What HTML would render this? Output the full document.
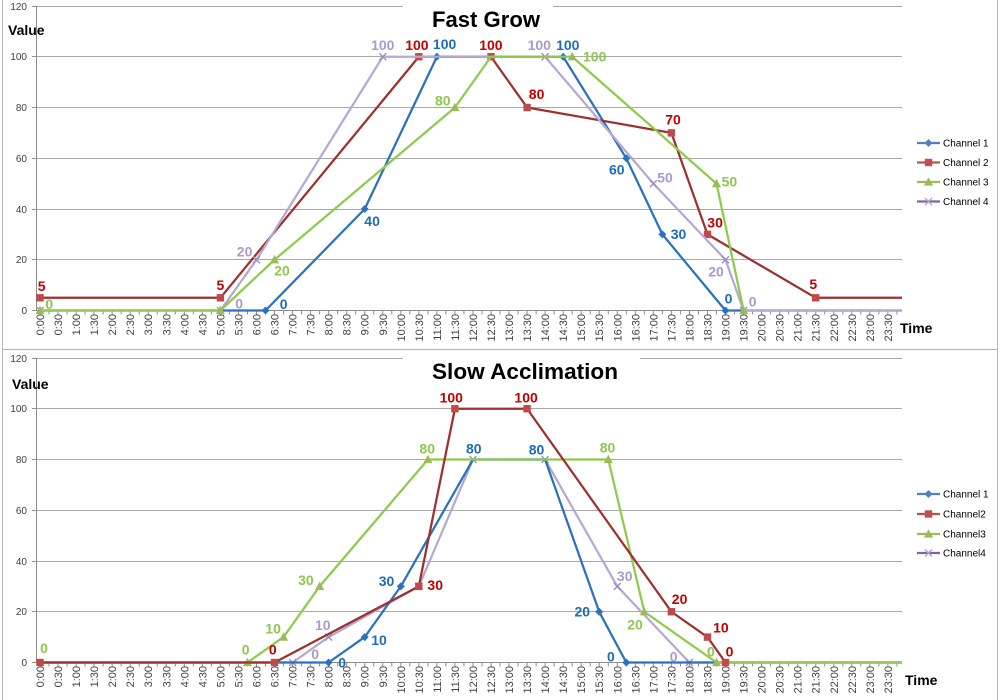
<!DOCTYPE html>
<html><head><meta charset="utf-8"><style>
html,body{margin:0;padding:0;background:#fff;}
svg{display:block;font-family:"Liberation Sans",sans-serif;}
.gl{stroke:#a8a8a8;stroke-width:1;}
.ax{stroke:#8c8c8c;stroke-width:1;}
.yl{font-size:10px;fill:#404040;text-anchor:end;}
.xl{font-size:11px;fill:#404040;text-anchor:end;}
.dl{font-size:14px;font-weight:bold;text-anchor:middle;}
.b{fill:#1f6cb5}.r{fill:#c00000}.g{fill:#8dc84e}.p{fill:#a99bc9}
.lg{font-size:10px;fill:#000;}
</style></head><body>
<svg width="1000" height="700" viewBox="0 0 1000 700" xmlns="http://www.w3.org/2000/svg">
<defs>
<path id="dm" d="M0,-4 L4,0 L0,4 L-4,0Z"/>
<rect id="sq" x="-3.7" y="-3.7" width="7.4" height="7.4"/>
<path id="tr" d="M0,-4.8 L4.6,3.6 L-4.6,3.6Z"/>
<path id="xx" d="M-3.5,-3.5L3.5,3.5M-3.5,3.5L3.5,-3.5" fill="none" stroke-width="1.4"/>
</defs>
<rect x="0" y="0" width="1000" height="700" fill="#fff"/>
<rect x="2.5" y="-2" width="995" height="351.5" fill="none" stroke="#b3b3b3"/>
<rect x="2.5" y="349.5" width="995" height="360" fill="none" stroke="#b3b3b3"/>

<!-- ============ TOP CHART ============ -->
<g>
<line class="gl" x1="36" y1="6.5" x2="902" y2="6.5"/>
<line class="gl" x1="36" y1="56.5" x2="902" y2="56.5"/>
<line class="gl" x1="36" y1="107.5" x2="902" y2="107.5"/>
<line class="gl" x1="36" y1="158.5" x2="902" y2="158.5"/>
<line class="gl" x1="36" y1="209.5" x2="902" y2="209.5"/>
<line class="gl" x1="36" y1="259.5" x2="902" y2="259.5"/>
<line class="ax" x1="36.5" y1="6" x2="36.5" y2="311"/>
<line class="ax" x1="36" y1="310.5" x2="902" y2="310.5"/>
<path class="ax" d="M32,6.5H36M32,56.5H36M32,107.5H36M32,158.5H36M32,209.5H36M32,259.5H36M32,310.5H36"/>
<line x1="39.5" y1="312.5" x2="902" y2="312.5" stroke="#8c8c8c" stroke-width="4" stroke-dasharray="1 8.02"/>
<rect x="403" y="0" width="150" height="14" fill="#fff"/>
<text x="486" y="27" font-size="22" font-weight="bold" text-anchor="middle" textLength="108" lengthAdjust="spacingAndGlyphs" fill="#000">Fast Grow</text>
<text x="8" y="35" font-size="14" font-weight="bold" fill="#000">Value</text>
<text x="900" y="333" font-size="14" font-weight="bold" fill="#000">Time</text>
<text class="yl" x="27" y="10">120</text>
<text class="yl" x="27" y="60">100</text>
<text class="yl" x="27" y="111">80</text>
<text class="yl" x="27" y="162">60</text>
<text class="yl" x="27" y="213">40</text>
<text class="yl" x="27" y="263">20</text>
<text class="yl" x="27" y="314">0</text>
<g class="xl">
<text transform="translate(44,314) rotate(-90)">0:00</text>
<text transform="translate(62,314) rotate(-90)">0:30</text>
<text transform="translate(80.1,314) rotate(-90)">1:00</text>
<text transform="translate(98.1,314) rotate(-90)">1:30</text>
<text transform="translate(116.2,314) rotate(-90)">2:00</text>
<text transform="translate(134.2,314) rotate(-90)">2:30</text>
<text transform="translate(152.2,314) rotate(-90)">3:00</text>
<text transform="translate(170.3,314) rotate(-90)">3:30</text>
<text transform="translate(188.3,314) rotate(-90)">4:00</text>
<text transform="translate(206.4,314) rotate(-90)">4:30</text>
<text transform="translate(224.4,314) rotate(-90)">5:00</text>
<text transform="translate(242.4,314) rotate(-90)">5:30</text>
<text transform="translate(260.5,314) rotate(-90)">6:00</text>
<text transform="translate(278.5,314) rotate(-90)">6:30</text>
<text transform="translate(296.6,314) rotate(-90)">7:00</text>
<text transform="translate(314.6,314) rotate(-90)">7:30</text>
<text transform="translate(332.6,314) rotate(-90)">8:00</text>
<text transform="translate(350.7,314) rotate(-90)">8:30</text>
<text transform="translate(368.7,314) rotate(-90)">9:00</text>
<text transform="translate(386.8,314) rotate(-90)">9:30</text>
<text transform="translate(404.8,314) rotate(-90)">10:00</text>
<text transform="translate(422.8,314) rotate(-90)">10:30</text>
<text transform="translate(440.9,314) rotate(-90)">11:00</text>
<text transform="translate(458.9,314) rotate(-90)">11:30</text>
<text transform="translate(477,314) rotate(-90)">12:00</text>
<text transform="translate(495,314) rotate(-90)">12:30</text>
<text transform="translate(513,314) rotate(-90)">13:00</text>
<text transform="translate(531.1,314) rotate(-90)">13:30</text>
<text transform="translate(549.1,314) rotate(-90)">14:00</text>
<text transform="translate(567.2,314) rotate(-90)">14:30</text>
<text transform="translate(585.2,314) rotate(-90)">15:00</text>
<text transform="translate(603.2,314) rotate(-90)">15:30</text>
<text transform="translate(621.3,314) rotate(-90)">16:00</text>
<text transform="translate(639.3,314) rotate(-90)">16:30</text>
<text transform="translate(657.4,314) rotate(-90)">17:00</text>
<text transform="translate(675.4,314) rotate(-90)">17:30</text>
<text transform="translate(693.4,314) rotate(-90)">18:00</text>
<text transform="translate(711.5,314) rotate(-90)">18:30</text>
<text transform="translate(729.5,314) rotate(-90)">19:00</text>
<text transform="translate(747.6,314) rotate(-90)">19:30</text>
<text transform="translate(765.6,314) rotate(-90)">20:00</text>
<text transform="translate(783.6,314) rotate(-90)">20:30</text>
<text transform="translate(801.7,314) rotate(-90)">21:00</text>
<text transform="translate(819.7,314) rotate(-90)">21:30</text>
<text transform="translate(837.8,314) rotate(-90)">22:00</text>
<text transform="translate(855.8,314) rotate(-90)">22:30</text>
<text transform="translate(873.8,314) rotate(-90)">23:00</text>
<text transform="translate(891.9,314) rotate(-90)">23:30</text>
</g>

<!-- series -->
<polyline fill="none" stroke="#2a72be" stroke-width="2.25" stroke-linejoin="round" points="40,310.5 220.4,310.5 265.5,310.5 364.7,209 436.9,56.75 563.2,56.75 626.3,158.3 662.4,234.4 725.5,310.5 743.6,310.5 902,310.5"/>
<g fill="#2a72be"><use href="#dm" x="265.5" y="310.5"/><use href="#dm" x="364.7" y="209"/><use href="#dm" x="436.9" y="56.75"/><use href="#dm" x="563.2" y="56.75"/><use href="#dm" x="626.3" y="158.3"/><use href="#dm" x="662.4" y="234.4"/><use href="#dm" x="725.5" y="310.5"/></g>
<polyline fill="none" stroke="#9e3030" stroke-width="2.25" stroke-linejoin="round" points="40,297.8 220.4,297.8 418.8,56.75 491,56.75 527.1,107.5 671.4,132.9 707.5,234.4 815.7,297.8 902,297.8"/>
<g fill="#be4b48"><use href="#sq" x="40" y="297.8"/><use href="#sq" x="220.4" y="297.8"/><use href="#sq" x="418.8" y="56.75"/><use href="#sq" x="491" y="56.75"/><use href="#sq" x="527.1" y="107.5"/><use href="#sq" x="671.4" y="132.9"/><use href="#sq" x="707.5" y="234.4"/><use href="#sq" x="815.7" y="297.8"/></g>
<polyline fill="none" stroke="#b6a8d2" stroke-width="2.25" stroke-linejoin="round" points="220.4,310.5 256.5,259.75 382.8,56.75 545.1,56.75 653.4,183.6 725.5,259.75 743.6,310.5 902,310.5"/>
<g stroke="#9d8dc3"><use href="#xx" x="40" y="310.5"/><use href="#xx" x="220.4" y="310.5"/><use href="#xx" x="256.5" y="259.75"/><use href="#xx" x="382.8" y="56.75"/><use href="#xx" x="545.1" y="56.75"/><use href="#xx" x="653.4" y="183.6"/><use href="#xx" x="725.5" y="259.75"/><use href="#xx" x="743.6" y="310.5"/></g>
<polyline fill="none" stroke="#8ecb4c" stroke-width="2.25" stroke-linejoin="round" points="40,310.5 220.4,310.5 274.5,259.75 454.9,107.5 491,56.75 572.2,56.75 716.5,183.6 743.6,310.5"/>
<g fill="#9bbb59"><use href="#tr" x="40" y="310.5"/><use href="#tr" x="220.4" y="310.5"/><use href="#tr" x="274.5" y="259.75"/><use href="#tr" x="454.9" y="107.5"/><use href="#tr" x="572.2" y="56.75"/><use href="#tr" x="716.5" y="183.6"/><use href="#tr" x="743.6" y="310.5"/></g>

<!-- labels -->
<g class="dl b">
<text x="283.6" y="309">0</text><text x="372.1" y="226">40</text><text x="444.6" y="49">100</text><text x="567.8" y="50">100</text><text x="616.8" y="174.3">60</text><text x="678.5" y="239">30</text><text x="728.5" y="303.3">0</text>
</g>
<g class="dl r">
<text x="41.7" y="291">5</text><text x="220.4" y="290">5</text><text x="416.9" y="50">100</text><text x="490.9" y="50">100</text><text x="536.6" y="99">80</text><text x="673" y="124.3">70</text><text x="715.1" y="227.7">30</text><text x="813.3" y="289">5</text>
</g>
<g class="dl g">
<text x="49.3" y="309">0</text><text x="282" y="275.7">20</text><text x="442.8" y="105.7">80</text><text x="594.7" y="61.7">100</text><text x="729.4" y="186.7">50</text>
</g>
<g class="dl p">
<text x="239.2" y="308.3">0</text><text x="244.6" y="256.7">20</text><text x="382.8" y="50">100</text><text x="539.3" y="50">100</text><text x="665" y="182.3">50</text><text x="716" y="276.7">20</text><text x="752.6" y="306.7">0</text>
</g>

<!-- legend -->
<g>
<line x1="917" y1="143" x2="940" y2="143" stroke="#4f81bd" stroke-width="2.25"/><use href="#dm" x="928.5" y="143" fill="#4f81bd"/>
<text class="lg" x="943" y="146.5">Channel 1</text>
<line x1="917" y1="162.5" x2="940" y2="162.5" stroke="#c0504d" stroke-width="2.25"/><use href="#sq" x="928.5" y="162.5" fill="#c0504d"/>
<text class="lg" x="943" y="166">Channel 2</text>
<line x1="917" y1="182" x2="940" y2="182" stroke="#9bbb59" stroke-width="2.25"/><use href="#tr" x="928.5" y="182" fill="#9bbb59"/>
<text class="lg" x="943" y="185.5">Channel 3</text>
<line x1="917" y1="201.5" x2="940" y2="201.5" stroke="#8064a2" stroke-width="2.25"/><use href="#xx" x="928.5" y="201.5" stroke="#b3a2c7"/>
<text class="lg" x="943" y="205">Channel 4</text>
</g>
</g>

<!-- ============ BOTTOM CHART ============ -->
<g transform="translate(0,352)">
<line class="gl" x1="36" y1="6.5" x2="902" y2="6.5"/>
<line class="gl" x1="36" y1="56.5" x2="902" y2="56.5"/>
<line class="gl" x1="36" y1="107.5" x2="902" y2="107.5"/>
<line class="gl" x1="36" y1="158.5" x2="902" y2="158.5"/>
<line class="gl" x1="36" y1="209.5" x2="902" y2="209.5"/>
<line class="gl" x1="36" y1="259.5" x2="902" y2="259.5"/>
<line class="ax" x1="36.5" y1="6" x2="36.5" y2="311"/>
<line class="ax" x1="36" y1="310.5" x2="902" y2="310.5"/>
<path class="ax" d="M32,6.5H36M32,56.5H36M32,107.5H36M32,158.5H36M32,209.5H36M32,259.5H36M32,310.5H36"/>
<line x1="39.5" y1="312.5" x2="902" y2="312.5" stroke="#8c8c8c" stroke-width="4" stroke-dasharray="1 8.02"/>
<rect x="403" y="2" width="237" height="12" fill="#fff"/>
<text x="525" y="27" font-size="22" font-weight="bold" text-anchor="middle" textLength="186" lengthAdjust="spacingAndGlyphs" fill="#000">Slow Acclimation</text>
<text x="12" y="37" font-size="14" font-weight="bold" fill="#000">Value</text>
<text x="905" y="333" font-size="14" font-weight="bold" fill="#000">Time</text>
<text class="yl" x="27" y="10">120</text>
<text class="yl" x="27" y="60">100</text>
<text class="yl" x="27" y="111">80</text>
<text class="yl" x="27" y="162">60</text>
<text class="yl" x="27" y="213">40</text>
<text class="yl" x="27" y="263">20</text>
<text class="yl" x="27" y="314">0</text>
<g class="xl">
<text transform="translate(44,314) rotate(-90)">0:00</text>
<text transform="translate(62,314) rotate(-90)">0:30</text>
<text transform="translate(80.1,314) rotate(-90)">1:00</text>
<text transform="translate(98.1,314) rotate(-90)">1:30</text>
<text transform="translate(116.2,314) rotate(-90)">2:00</text>
<text transform="translate(134.2,314) rotate(-90)">2:30</text>
<text transform="translate(152.2,314) rotate(-90)">3:00</text>
<text transform="translate(170.3,314) rotate(-90)">3:30</text>
<text transform="translate(188.3,314) rotate(-90)">4:00</text>
<text transform="translate(206.4,314) rotate(-90)">4:30</text>
<text transform="translate(224.4,314) rotate(-90)">5:00</text>
<text transform="translate(242.4,314) rotate(-90)">5:30</text>
<text transform="translate(260.5,314) rotate(-90)">6:00</text>
<text transform="translate(278.5,314) rotate(-90)">6:30</text>
<text transform="translate(296.6,314) rotate(-90)">7:00</text>
<text transform="translate(314.6,314) rotate(-90)">7:30</text>
<text transform="translate(332.6,314) rotate(-90)">8:00</text>
<text transform="translate(350.7,314) rotate(-90)">8:30</text>
<text transform="translate(368.7,314) rotate(-90)">9:00</text>
<text transform="translate(386.8,314) rotate(-90)">9:30</text>
<text transform="translate(404.8,314) rotate(-90)">10:00</text>
<text transform="translate(422.8,314) rotate(-90)">10:30</text>
<text transform="translate(440.9,314) rotate(-90)">11:00</text>
<text transform="translate(458.9,314) rotate(-90)">11:30</text>
<text transform="translate(477,314) rotate(-90)">12:00</text>
<text transform="translate(495,314) rotate(-90)">12:30</text>
<text transform="translate(513,314) rotate(-90)">13:00</text>
<text transform="translate(531.1,314) rotate(-90)">13:30</text>
<text transform="translate(549.1,314) rotate(-90)">14:00</text>
<text transform="translate(567.2,314) rotate(-90)">14:30</text>
<text transform="translate(585.2,314) rotate(-90)">15:00</text>
<text transform="translate(603.2,314) rotate(-90)">15:30</text>
<text transform="translate(621.3,314) rotate(-90)">16:00</text>
<text transform="translate(639.3,314) rotate(-90)">16:30</text>
<text transform="translate(657.4,314) rotate(-90)">17:00</text>
<text transform="translate(675.4,314) rotate(-90)">17:30</text>
<text transform="translate(693.4,314) rotate(-90)">18:00</text>
<text transform="translate(711.5,314) rotate(-90)">18:30</text>
<text transform="translate(729.5,314) rotate(-90)">19:00</text>
<text transform="translate(747.6,314) rotate(-90)">19:30</text>
<text transform="translate(765.6,314) rotate(-90)">20:00</text>
<text transform="translate(783.6,314) rotate(-90)">20:30</text>
<text transform="translate(801.7,314) rotate(-90)">21:00</text>
<text transform="translate(819.7,314) rotate(-90)">21:30</text>
<text transform="translate(837.8,314) rotate(-90)">22:00</text>
<text transform="translate(855.8,314) rotate(-90)">22:30</text>
<text transform="translate(873.8,314) rotate(-90)">23:00</text>
<text transform="translate(891.9,314) rotate(-90)">23:30</text>
</g>

<!-- series -->
<polyline fill="none" stroke="#b6a8d2" stroke-width="2.25" stroke-linejoin="round" points="40,310.5 292.6,310.5 328.6,285.1 418.8,234.4 473,107.5 545.1,107.5 617.3,234.4 689.4,310.5 902,310.5"/>
<g stroke="#9d8dc3"><use href="#xx" x="292.6" y="310.5"/><use href="#xx" x="328.6" y="285.1"/><use href="#xx" x="418.8" y="234.4"/><use href="#xx" x="473" y="107.5"/><use href="#xx" x="545.1" y="107.5"/><use href="#xx" x="617.3" y="234.4"/><use href="#xx" x="689.4" y="310.5"/></g>
<polyline fill="none" stroke="#2a72be" stroke-width="2.25" stroke-linejoin="round" points="40,310.5 328.6,310.5 364.7,285.1 400.8,234.4 473,107.5 545.1,107.5 599.2,259.75 626.3,310.5 902,310.5"/>
<g fill="#2a72be"><use href="#dm" x="328.6" y="310.5"/><use href="#dm" x="364.7" y="285.1"/><use href="#dm" x="400.8" y="234.4"/><use href="#dm" x="599.2" y="259.75"/><use href="#dm" x="626.3" y="310.5"/></g>
<polyline fill="none" stroke="#8ecb4c" stroke-width="2.25" stroke-linejoin="round" points="40,310.5 247.5,310.5 283.5,285.1 319.6,234.4 427.9,107.5 608.3,107.5 644.3,259.75 716.5,310.5 902,310.5"/>
<g fill="#9bbb59"><use href="#tr" x="247.5" y="310.5"/><use href="#tr" x="283.5" y="285.1"/><use href="#tr" x="319.6" y="234.4"/><use href="#tr" x="427.9" y="107.5"/><use href="#tr" x="608.3" y="107.5"/><use href="#tr" x="644.3" y="259.75"/><use href="#tr" x="716.5" y="310.5"/></g>
<polyline fill="none" stroke="#9e3030" stroke-width="2.25" stroke-linejoin="round" points="40,310.5 274.5,310.5 418.8,234.4 454.9,56.75 527.1,56.75 671.4,259.75 707.5,285.1 725.5,310.5"/>
<g fill="#be4b48"><use href="#sq" x="40" y="310.5"/><use href="#sq" x="274.5" y="310.5"/><use href="#sq" x="418.8" y="234.4"/><use href="#sq" x="454.9" y="56.75"/><use href="#sq" x="527.1" y="56.75"/><use href="#sq" x="671.4" y="259.75"/><use href="#sq" x="707.5" y="285.1"/><use href="#sq" x="725.5" y="310.5"/></g>

<!-- labels -->
<g class="dl b">
<text x="342.1" y="315.7">0</text><text x="379" y="293">10</text><text x="386.5" y="234">30</text><text x="473.8" y="101.3">80</text><text x="536.5" y="102.3">80</text><text x="582.3" y="264.7">20</text><text x="610.9" y="309.7">0</text>
</g>
<g class="dl r">
<text x="272.8" y="302.3">0</text><text x="435.2" y="238">30</text><text x="451.3" y="50.3">100</text><text x="526.1" y="50.3">100</text><text x="679.6" y="252">20</text><text x="720.9" y="280.3">10</text><text x="729.5" y="304.7">0</text>
</g>
<g class="dl g">
<text x="44" y="301">0</text><text x="245.6" y="302.3">0</text><text x="273.1" y="281.3">10</text><text x="305.9" y="233">30</text><text x="427.2" y="101.3">80</text><text x="607.5" y="100.3">80</text><text x="635" y="277.3">20</text><text x="710.9" y="304.7">0</text>
</g>
<g class="dl p">
<text x="315.2" y="307">0</text><text x="322.8" y="278">10</text><text x="624.7" y="229">30</text><text x="673.7" y="309.7">0</text>
</g>

<!-- legend -->
<g>
<line x1="917" y1="142" x2="940" y2="142" stroke="#4f81bd" stroke-width="2.25"/><use href="#dm" x="928.5" y="142" fill="#4f81bd"/>
<text class="lg" x="943" y="145.5">Channel 1</text>
<line x1="917" y1="162" x2="940" y2="162" stroke="#c0504d" stroke-width="2.25"/><use href="#sq" x="928.5" y="162" fill="#c0504d"/>
<text class="lg" x="943" y="165.5">Channel2</text>
<line x1="917" y1="182" x2="940" y2="182" stroke="#9bbb59" stroke-width="2.25"/><use href="#tr" x="928.5" y="182" fill="#9bbb59"/>
<text class="lg" x="943" y="185.5">Channel3</text>
<line x1="917" y1="201" x2="940" y2="201" stroke="#8064a2" stroke-width="2.25"/><use href="#xx" x="928.5" y="201" stroke="#b3a2c7"/>
<text class="lg" x="943" y="204.5">Channel4</text>
</g>
</g>
</svg>
</body></html>
